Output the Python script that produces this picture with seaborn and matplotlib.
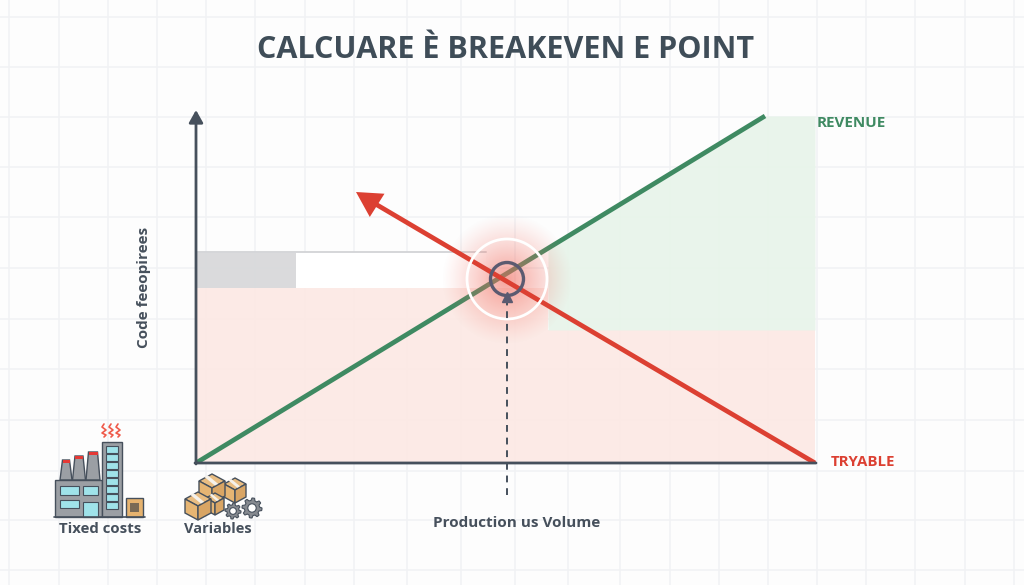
import numpy as np
import pandas as pd
import seaborn as sns
import matplotlib.pyplot as plt
from matplotlib.patches import Polygon, Rectangle, Circle
from matplotlib.colors import LinearSegmentedColormap

title = 'CALCUARE È BREAKEVEN E POINT'
y_label = 'Code feeopirees'
x_label = 'Production us Volume'
revenue_label = 'REVENUE'
cost_label = 'TRYABLE'
fixed_label = 'Tixed costs'
variable_label = 'Variables'

# values, pixels from the origin of the axes
revenue_x = [0, 569]
revenue_y = [0, 347]
cost_x = [619, 171]
cost_y = [0, 264]
breakeven = (311, 184)
cost_area_x = [0, 352, 352, 619]
cost_area_y = [175, 175, 133, 133]
profit_area_x = [352, 569, 619]
profit_low = [133, 133, 133]
profit_high = [215, 347, 347]
fixed_band_x = [0, 100]
fixed_band_y = [175, 211]
open_band_x = [100, 290]

INK = '#46505c'
RED = '#dc4032'
GREEN = '#3f8a62'
PINK = '#fce9e5'
MINT = '#e8f4ea'

sns.set_theme(style='white')
plt.rcParams['font.family'] = ['Open Sans', 'DejaVu Sans']

fig = plt.figure(figsize=(10.24, 5.85), dpi=100, facecolor='#fdfdfd')

# background grid, whole figure
bg = fig.add_axes([0, 0, 1, 1], zorder=0)
bg.set_xlim(0, 1024)
bg.set_ylim(585, 0)
bg.axis('off')
for gx in [9, 59, 108, 157, 206, 255, 305, 354, 407, 461, 515, 568, 620, 670, 719, 768, 817, 866, 915, 965, 1014]:
    bg.axvline(gx, color='#f1f2f4', lw=1.1)
for gy in [17, 67, 117, 167, 217, 268, 319, 369, 420, 471, 520, 570]:
    bg.axhline(gy, color='#f1f2f4', lw=1.1)

# chart axes, origin at pixel (196, 463)
ax = fig.add_axes([196 / 1024, 1 - 463 / 585, 640 / 1024, 363 / 585], zorder=1)
ax.patch.set_alpha(0)

ax.fill_between(cost_area_x, 0, cost_area_y, color=PINK, lw=0, alpha=0.95, zorder=1)
ax.fill_between(profit_area_x, profit_low, profit_high, color=MINT, lw=0, alpha=0.95, zorder=1)
ax.add_patch(Rectangle((fixed_band_x[0], fixed_band_y[0]), fixed_band_x[1], fixed_band_y[1] - fixed_band_y[0],
                       color='#d8d9db', alpha=0.95, lw=0, zorder=1))
ax.add_patch(Rectangle((open_band_x[0], fixed_band_y[0]), open_band_x[1] - open_band_x[0], fixed_band_y[1] - fixed_band_y[0],
                       color='#ffffff', lw=0, zorder=1))
ax.plot([0, open_band_x[1]], [fixed_band_y[1], fixed_band_y[1]], color='#d5d6d9', lw=1.4, zorder=2)

# the revenue line goes under the glow, the cost line over it
lines = pd.DataFrame({'x': revenue_x, 'y': revenue_y})
sns.lineplot(data=lines, x='x', y='y', color=GREEN, lw=3.4, ax=ax, zorder=3, solid_capstyle='butt')

# soft glow round the crossing
gx, gy = np.meshgrid(np.linspace(-66, 66, 240), np.linspace(-66, 66, 240))
glow = np.clip(1 - np.hypot(gx, gy) / 66, 0, 1) ** 1.2
glow_cmap = LinearSegmentedColormap.from_list('glow', [(0.95, 0.42, 0.37, 0), (0.95, 0.42, 0.37, 0.62)])
ax.imshow(glow, cmap=glow_cmap, extent=[breakeven[0] - 66, breakeven[0] + 66, breakeven[1] - 66, breakeven[1] + 66],
          origin='lower', aspect='auto', zorder=4, interpolation='bilinear')

costs = pd.DataFrame({'x': cost_x, 'y': cost_y})
sns.lineplot(data=costs, x='x', y='y', color=RED, lw=3.4, ax=ax, zorder=5, sort=False, solid_capstyle='butt')
ax.set_xlim(0, 640)
ax.set_ylim(0, 363)
ax.axis('off')
ax.annotate('', xy=(160, 271), xytext=(cost_x[1] + 8, cost_y[1] - 5), zorder=6,
            arrowprops=dict(arrowstyle='-|>,head_length=1.0,head_width=0.55', color=RED, lw=0, shrinkA=0, shrinkB=0, mutation_scale=18))

# breakeven marker
ax.add_patch(Circle(breakeven, 40, fill=False, ec='white', lw=2, zorder=6))
ax.add_patch(Circle(breakeven, 16.5, fill=False, ec='#5b5a70', lw=2.4, zorder=7))
ax.plot([breakeven[0], breakeven[0]], [-32, breakeven[1] - 20], color=INK, lw=1.4, ls=(0, (3.5, 3)), zorder=6, clip_on=False)
ax.plot([breakeven[0]], [breakeven[1] - 18], marker='^', ms=7, color='#5b5a70', zorder=8)

# overlay in figure pixels for axes, texts and icons
top = fig.add_axes([0, 0, 1, 1], zorder=2)
top.set_xlim(0, 1024)
top.set_ylim(585, 0)
top.axis('off')
top.patch.set_alpha(0)

top.annotate('', xy=(196, 110), xytext=(196, 464),
             arrowprops=dict(arrowstyle='-|>,head_length=0.75,head_width=0.42', color=INK, lw=2, shrinkA=0, shrinkB=0, mutation_scale=10))
top.annotate('', xy=(816, 463), xytext=(195, 463),
             arrowprops=dict(arrowstyle='-', color=INK, lw=2, shrinkA=0, shrinkB=0))

top.text(506, 50, title, ha='center', va='center', fontsize=22, fontweight='bold', color='#3f4d58')
top.text(144, 287, y_label, rotation=90, ha='center', va='center', fontsize=11, fontweight='bold', color=INK)
top.text(517, 523, x_label, ha='center', va='center', fontsize=11, fontweight='bold', color=INK)
top.text(817, 123, revenue_label, ha='left', va='center', fontsize=11, fontweight='bold', color=GREEN)
top.text(831, 462, cost_label, ha='left', va='center', fontsize=10.8, fontweight='bold', color=RED)
top.text(100, 529, fixed_label, ha='center', va='center', fontsize=10.8, fontweight='bold', color=INK)
top.text(218, 529, variable_label, ha='center', va='center', fontsize=10.5, fontweight='bold', color=INK)


def rect(x0, y0, x1, y1, fc, ec=INK, lw=1.0, z=3):
    top.add_patch(Rectangle((x0, y0), x1 - x0, y1 - y0, fc=fc, ec=ec, lw=lw, zorder=z))


# factory icon
for cx, ct, hw in [(66, 460, 3.5), (79, 456, 4), (93, 452, 4.5)]:
    top.add_patch(Polygon([(cx - hw, ct), (cx + hw, ct), (cx + hw + 2.5, 480), (cx - hw - 2.5, 480)],
                          fc='#9b9fa4', ec=INK, lw=1, zorder=3))
    rect(cx - hw, ct, cx + hw, ct + 3, '#e53935', ec='none', lw=0, z=4)
rect(55, 480, 102, 517, '#9b9fa4')
rect(102, 442, 122, 517, '#9b9fa4')
for wy in range(446, 506, 8):
    rect(106, wy, 118, wy + 6.5, '#9fe3ea', lw=0.8)
for wx0, wx1 in [(60, 79), (83, 98)]:
    rect(wx0, 486, wx1, 495, '#9fe3ea', lw=0.8)
rect(60, 500, 79, 508, '#9fe3ea', lw=0.8)
rect(83, 502, 98, 517, '#9fe3ea', lw=0.8)
rect(126, 498, 143, 517, '#e6b36f')
rect(130, 503, 139, 512, '#7a6a55', ec='none', lw=0)
top.plot([54, 145], [517, 517], color=INK, lw=1.2, zorder=4)
for sx in [104, 111, 118]:
    top.plot([sx, sx - 2, sx + 2, sx - 2, sx + 2, sx], [424, 427, 430, 433, 435, 437], color='#ef5a4a', lw=1.2)


def box(cx, cy, w, h, d):
    top.add_patch(Polygon([(cx, cy - h), (cx + w, cy), (cx, cy + h), (cx - w, cy)], fc='#e9bd82', ec=INK, lw=1, zorder=5))
    top.add_patch(Polygon([(cx - w * 0.6, cy - h * 0.6), (cx - w * 0.35, cy - h * 0.85), (cx + w * 0.6, cy + h * 0.6), (cx + w * 0.35, cy + h * 0.85)],
                          fc='#f5f1ea', lw=0, zorder=5))
    top.add_patch(Polygon([(cx - w, cy), (cx, cy + h), (cx, cy + h + d), (cx - w, cy + d)], fc='#e6b573', ec=INK, lw=1, zorder=5))
    top.add_patch(Polygon([(cx + w, cy), (cx, cy + h), (cx, cy + h + d), (cx + w, cy + d)], fc='#d9a564', ec=INK, lw=1, zorder=5))


box(235, 484, 11, 6, 13)
box(212, 481, 13, 7, 15)
box(215, 498, 9, 5, 12)
box(198, 499, 13, 7, 14)


def gear(cx, cy, r):
    a = np.linspace(0, 2 * np.pi, 49)[:-1]
    rr = np.where((np.arange(48) % 6) < 3, r, r * 0.76)
    top.add_patch(Polygon(np.c_[cx + rr * np.cos(a), cy + rr * np.sin(a)], fc='#868a90', ec=INK, lw=0.8, zorder=6))
    top.add_patch(Circle((cx, cy), r * 0.42, fc='white', ec=INK, lw=0.8, zorder=7))


gear(233, 511, 8)
gear(252, 508, 10)

fig.savefig('out.png', dpi=100, facecolor=fig.get_facecolor())
